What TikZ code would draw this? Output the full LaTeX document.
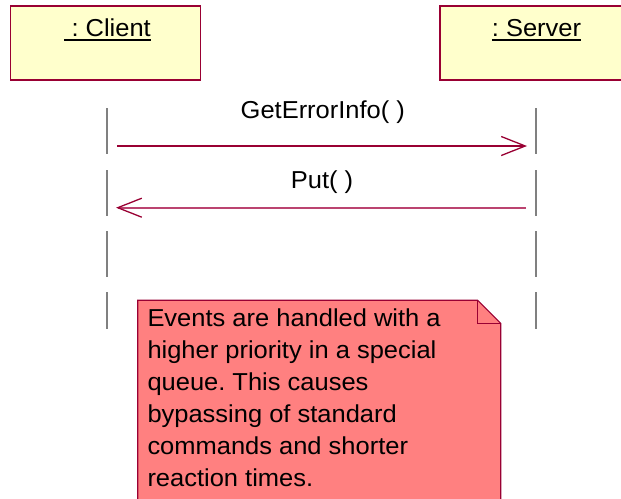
\documentclass[tikz,border=0pt]{standalone}
\usepackage{fontspec}
\setmainfont{Liberation Sans}[FakeStretch=1.04]
\usetikzlibrary{arrows.meta}
\definecolor{boxfill}{HTML}{FFFFCC}
\definecolor{umlred}{HTML}{990033}
\definecolor{notefill}{HTML}{FF8080}
\definecolor{lifegray}{HTML}{808080}
\definecolor{retshaft}{HTML}{BB4470}
\newcommand\ulname[1]{\setbox0\hbox{#1}\rlap{\rule[-5.1pt]{\wd0}{1.7pt}}\box0}
\frenchspacing
\begin{document}
\begin{tikzpicture}[x=1pt,y=-1pt,
  objbox/.style={draw=umlred, fill=boxfill, line width=1.2pt, minimum width=190pt, minimum height=74pt, inner sep=0pt},
  lbl/.style={font=\fontsize{24.5}{30}\selectfont, inner sep=0pt, anchor=base},
  lifeline/.style={draw=lifegray, line width=1.3pt},
  msgarrow/.style={draw=umlred, line width=1.3pt, -{Straight Barb[length=24pt,width=19pt]}},
  retarrow/.style={draw=retshaft, line width=1.8pt, -{Straight Barb[length=24pt,width=19pt,color=umlred,line width=1.3pt]}},
  notebox/.style={draw=umlred, fill=notefill, line width=1.2pt},
  notetext/.style={font=\fontsize{24.5}{32}\selectfont, inner sep=0pt, anchor=north west, align=left}]
\useasboundingbox (0,0) rectangle (621,498);
\clip (0,0) rectangle (621,498);
% object boxes
\node[objbox] (client) at (105.7,43) {};
\node[objbox, minimum width=192pt] (server) at (536,43) {};
\node[lbl] (clientlbl) at (107.5,36) {\ulname{\hspace*{.3em}: Client}};
\node[lbl] (serverlbl) at (536.5,36) {\ulname{: Server}};
% lifelines
\foreach \a/\b in {108/154,170/216,231/277,292/329}{
  \draw[lifeline] (107,\a) -- (107,\b);
  \draw[lifeline] (536,\a) -- (536,\b);
}
% messages
\coordinate (m1s) at (117,146);
\coordinate (m1e) at (527,146);
\draw[msgarrow] (m1s) -- (m1e);
\node[lbl] (m1lbl) at (322.8,118) {GetErrorInfo( )};
\coordinate (m2s) at (526,207.7);
\coordinate (m2e) at (116,207.7);
\draw[retarrow] (m2s) -- (m2e);
\node[lbl] (m2lbl) at (322,188) {Put( )};
% note
\coordinate (nA) at (137.7,300.3);
\coordinate (nB) at (477.7,300.3);
\coordinate (nC) at (500.7,323.3);
\coordinate (nD) at (500.7,510);
\coordinate (nE) at (137.7,510);
\coordinate (nF) at (477.7,323.3);
\filldraw[notebox] (nA) -- (nB) -- (nC) -- (nD) -- (nE) -- cycle;
\draw[notebox, fill=none] (nB) -- (nF) -- (nC);
\node[notetext] (notetxt) at (147.3,308.8) {Events are handled with a\\higher priority in a special\\queue. This causes\\bypassing of standard\\commands and shorter\\reaction times.};
\end{tikzpicture}
\end{document}
